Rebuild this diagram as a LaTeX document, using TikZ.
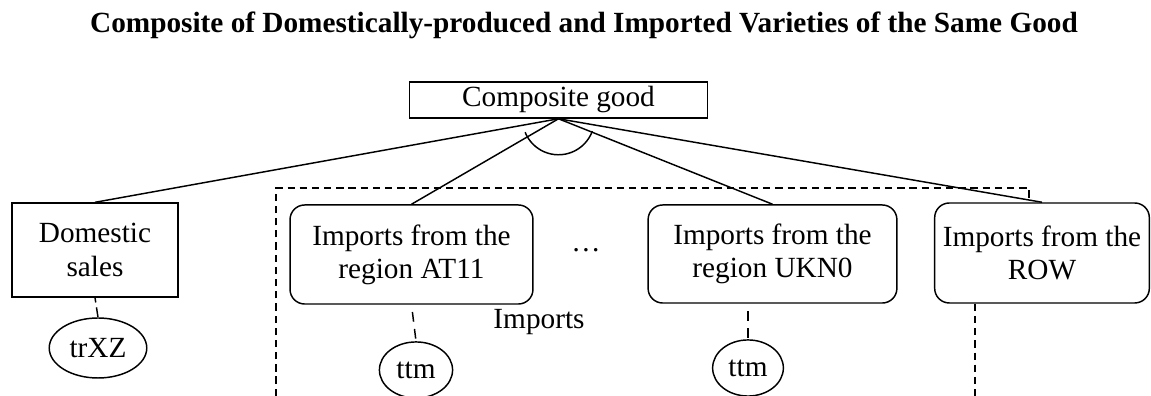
\documentclass[tikz,border=0pt]{standalone}
\usepackage{fontspec}
\setmainfont{Liberation Serif}
\usetikzlibrary{shapes.geometric}

\tikzset{
	plainbox/.style={draw, line width=0.6pt, align=center, inner sep=1pt},
	regionbox/.style={plainbox, rounded corners=6pt},
	taxoval/.style={draw, line width=0.6pt, ellipse, inner sep=0pt},
	nestline/.style={line width=0.6pt},
	framedash/.style={line width=0.6pt, dash pattern=on 3pt off 2pt},
	stubdash/.style={line width=0.6pt, dash pattern=on 4pt off 3pt, dash phase=4pt}
}

\begin{document}
\begin{tikzpicture}[x=0.41pt, y=-0.41pt, font=\fontsize{12}{13.6}\selectfont]
	\useasboundingbox (0,0) rectangle (1151,396);
	% Titel
	\node[anchor=base, font=\fontsize{12}{14}\selectfont\bfseries] (title) at (584,33)
		{Composite of Domestically-produced and Imported Varieties of the Same Good};
	
	% Oberste Ebene
	\node[plainbox, minimum width=122pt, minimum height=14.8pt] (comp) at (558.5,100) {Composite good};
	
	% Zweite Ebene
	\node[plainbox, minimum width=68pt, minimum height=38.5pt] (dom) at (95,250) {Domestic\\sales};
	\node[regionbox, minimum width=99.6pt, minimum height=40.6pt] (at) at (411.5,254.5) {Imports from the\\region AT11};
	\node[regionbox, minimum width=102pt, minimum height=40.2pt] (ukn) at (772.5,254) {Imports from the\\region UKN0};
	\node[regionbox, minimum width=88pt, minimum height=41pt] (row) at (1042,253) {Imports from the\\ROW};
	\node (dots) at (586,250) {\dots};
	\node (implabel) at (539,322) {Imports};
	
	% Zoelle
	\node[taxoval, minimum width=40pt, minimum height=24.6pt] (trxz) at (98,348) {trXZ};
	\node[taxoval, minimum width=30pt, minimum height=23pt] (ttma) at (416,370) {ttm};
	\node[taxoval, minimum width=29pt, minimum height=23pt] (ttmb) at (748,368) {ttm};
	
	% Verbindungen
	\foreach \n in {dom, at, ukn, row} {
		\draw[nestline] (comp.south) -- (\n.north);
	}
	\draw[nestline] (comp.south) ++(158:36) arc[start angle=158, end angle=20, radius=36];
	
	\draw[line width=0.6pt, dash pattern=on 4pt off 2pt, dash phase=2pt] (dom.south) -- (trxz.north);
	\draw[stubdash] (at.south) -- (ttma.north);
	\draw[stubdash] (ttmb.north |- ukn.south) -- (ttmb.north);
	
	% Importrahmen
	\coordinate (framebl) at (276,396);
	\coordinate (frametr) at (1029,188);
	\coordinate (rowfoot) at (975,396);
	\draw[framedash] (framebl) |- (frametr) -- (frametr |- row.north);
	\draw[framedash] (row.south -| rowfoot) -- (rowfoot);
\end{tikzpicture}
\end{document}
